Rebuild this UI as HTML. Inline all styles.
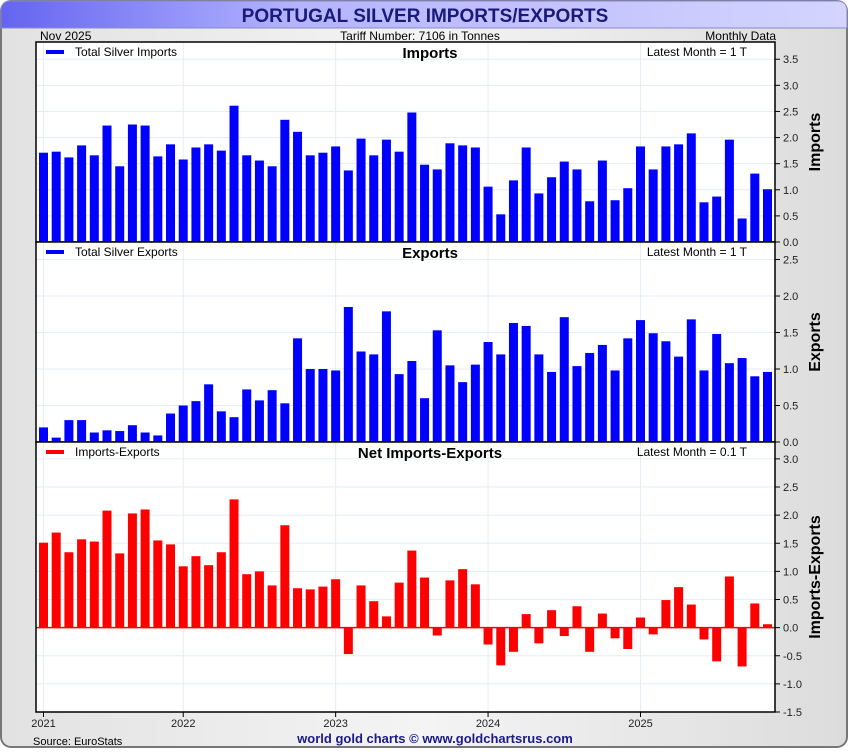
<!DOCTYPE html>
<html><head><meta charset="utf-8"><style>
body{margin:0;width:850px;height:750px;overflow:hidden;font-family:"Liberation Sans",sans-serif;}
</style></head><body>
<svg id="c" width="850" height="750" xmlns="http://www.w3.org/2000/svg">
<defs>
<linearGradient id="bg" x1="0" x2="1" y1="0" y2="0"><stop offset="0" stop-color="#e2e2e2"/><stop offset="0.5" stop-color="#f4f4f4"/><stop offset="1" stop-color="#dcdcdc"/></linearGradient>
<linearGradient id="tb" x1="0" x2="1" y1="0" y2="0"><stop offset="0" stop-color="#6464f0"/><stop offset="0.35" stop-color="#b4b4ff"/><stop offset="1" stop-color="#d4d4ff"/></linearGradient>
</defs>
<rect x="1" y="1" width="846" height="746" rx="10" fill="url(#bg)" stroke="#777" stroke-width="2"/>
<path d="M1,28 L1,11 Q1,1 11,1 L837,1 Q847,1 847,11 L847,28 Z" fill="url(#tb)" stroke="#8888cc"/>
<text x="425" y="22" text-anchor="middle" font-size="19" font-weight="bold" fill="#1a1a78">PORTUGAL SILVER IMPORTS/EXPORTS</text>
<text x="40" y="40" font-size="12" fill="#000">Nov  2025</text>
<text x="420" y="40" text-anchor="middle" font-size="12" fill="#000">Tariff Number: 7106 in Tonnes</text>
<text x="776" y="40" text-anchor="end" font-size="12" fill="#000">Monthly Data</text>
<text x="33" y="745" font-size="11" fill="#000">Source: EuroStats</text>
<text x="435" y="743" text-anchor="middle" font-size="13" font-weight="bold" fill="#1a1a8a">world gold charts © www.goldchartsrus.com</text>
<g id="plots"></g>
</svg>
<script>
const imports=[1.71,1.73,1.62,1.85,1.66,2.23,1.45,2.25,2.23,1.64,1.87,1.58,1.81,1.87,1.75,2.61,1.66,1.56,1.45,2.34,2.11,1.66,1.71,1.83,1.37,1.98,1.66,1.96,1.73,2.48,1.48,1.39,1.89,1.85,1.81,1.06,0.53,1.18,1.81,0.93,1.24,1.54,1.39,0.78,1.56,0.80,1.03,1.83,1.39,1.83,1.87,2.08,0.76,0.87,1.96,0.45,1.31,1.01];
const exportsV=[0.20,0.06,0.30,0.30,0.13,0.16,0.15,0.23,0.13,0.09,0.39,0.50,0.56,0.79,0.42,0.34,0.72,0.57,0.71,0.53,1.42,1.00,1.00,0.98,1.85,1.24,1.20,1.79,0.93,1.11,0.60,1.53,1.05,0.82,1.06,1.37,1.20,1.63,1.59,1.20,0.96,1.71,1.04,1.22,1.33,0.98,1.42,1.67,1.49,1.38,1.17,1.68,0.98,1.48,1.08,1.15,0.90,0.96];
const net=[1.51,1.69,1.34,1.57,1.53,2.08,1.32,2.03,2.10,1.55,1.48,1.09,1.27,1.11,1.34,2.28,0.95,1.00,0.75,1.82,0.70,0.68,0.73,0.86,-0.47,0.75,0.47,0.20,0.80,1.37,0.89,-0.14,0.84,1.04,0.77,-0.30,-0.67,-0.43,0.24,-0.28,0.31,-0.15,0.38,-0.43,0.25,-0.19,-0.38,0.18,-0.12,0.49,0.72,0.41,-0.21,-0.60,0.91,-0.69,0.43,0.06];
const yearLabels=["2021","2022","2023","2024","2025"];
const yearIdx=[0,11,23,35,47];
const impTicks=[0,0.5,1,1.5,2,2.5,3,3.5];
const expTicks=[0,0.5,1,1.5,2,2.5];
const netTicks=[-1.5,-1,-0.5,0,0.5,1,1.5,2,2.5,3];

const NS="http://www.w3.org/2000/svg";
const g=document.getElementById('plots');
const X0=36,X1=775,N=imports.length;
const x0c=43.5,pitch=(767.5-43.5)/(N-1);
function xs(i){return x0c+i*pitch;}
function el(t,a,p){const e=document.createElementNS(NS,t);for(const k in a)e.setAttribute(k,a[k]);(p||g).appendChild(e);return e;}

const panels=[
 {data:imports,top:42,bot:242,min:0,max:3.83,ticks:impTicks,color:"#0000ff",legend:"Total Silver Imports",title:"Imports",latest:"Latest Month = 1 T",axis:"Imports",name:"imports"},
 {data:exportsV,top:242,bot:442,min:0,max:2.74,ticks:expTicks,color:"#0000ff",legend:"Total Silver Exports",title:"Exports",latest:"Latest Month = 1 T",axis:"Exports",name:"exports"},
 {data:net,top:442,bot:712,min:-1.5,max:3.3,ticks:netTicks,color:"#ff0000",legend:"Imports-Exports",title:"Net Imports-Exports",latest:"Latest Month = 0.1 T",axis:"Imports-Exports",name:"net"}
];
panels.forEach(p=>{
 const ys=v=>p.bot-(v-p.min)/(p.max-p.min)*(p.bot-p.top);
 const pg=el('g',{});
 
 
 const bgr=el('rect',{x:X0,y:p.top,width:X1-X0,height:p.bot-p.top,fill:"#fff"},pg);
 
 
 p.ticks.forEach(t=>{
  const y=ys(t);
  const gl=el('line',{x1:X0,x2:X1,y1:y,y2:y,stroke:"#e4eef6","stroke-width":1},pg);
  
  
  el('line',{x1:X1,x2:X1+5,y1:y,y2:y,stroke:"#000"},pg);
  const tl=el('text',{x:X1+8,y:y+4,"font-size":11,fill:"#222"},pg);
  tl.textContent=t.toFixed(1);
  
  
 });
 yearIdx.forEach(i=>{
  const gl=el('line',{x1:xs(i),x2:xs(i),y1:p.top,y2:p.bot,stroke:"#e4eef6"},pg);
  
  
 });
 const z=ys(Math.max(0,p.min));
 p.data.forEach((v,i)=>{
  const y=ys(v);
  const r=el('rect',{x:xs(i)-4.5,y:Math.min(y,z),width:9,height:Math.abs(z-y),fill:p.color},pg);
  
  
 });
 if(p.min<0){el('line',{x1:X0,x2:X1,y1:z,y2:z,stroke:"#ff0000","stroke-width":1.5},pg);}
 el('rect',{x:X0,y:p.top,width:X1-X0,height:p.bot-p.top,fill:"none",stroke:"#000","stroke-width":1.5},pg);
 el('rect',{x:46,y:p.top+8,width:18,height:4,fill:p.color},pg);
 const lg=el('text',{x:75,y:p.top+14,"font-size":12,fill:"#000"},pg);
 lg.textContent=p.legend;
 
 
 const tt=el('text',{x:430,y:p.top+16,"text-anchor":"middle","font-size":15,"font-weight":"bold",fill:"#000"},pg);
 tt.textContent=p.title;
 
 
 const lt=el('text',{x:747,y:p.top+14,"text-anchor":"end","font-size":12,fill:"#000"},pg);
 lt.textContent=p.latest;
 
 
 const cy=(p.top+p.bot)/2;
 const at=el('text',{x:820,y:cy,"text-anchor":"middle","font-size":16,"font-weight":"bold",fill:"#000",transform:`rotate(-90 820 ${cy})`},pg);
 at.textContent=p.axis;
 
 
});
yearIdx.forEach((i,k)=>{
 el('line',{x1:xs(i),x2:xs(i),y1:712,y2:717,stroke:"#000"});
 const t=el('text',{x:xs(i),y:727,"text-anchor":"middle","font-size":11,fill:"#222"});
 t.textContent=yearLabels[k];
 
 
});
</script>
</body></html>
